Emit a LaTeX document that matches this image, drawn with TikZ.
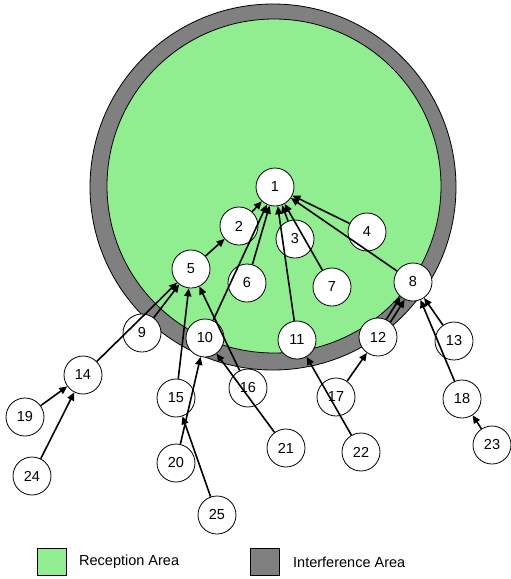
\documentclass[tikz,border=0pt]{standalone}
\usepackage{fontspec}
\setmainfont{Liberation Sans}
\usetikzlibrary{arrows.meta}
\usetikzlibrary{positioning}

\definecolor{recvgreen}{HTML}{90EE90}
\definecolor{intfgray}{HTML}{808080}

\begin{document}
\begin{tikzpicture}[x=1pt,y=-1pt,
        station/.style={circle, draw, fill=white, line width=0.8pt, minimum size=38pt, inner sep=0pt, font=\fontsize{14.5}{16}\selectfont},
        link/.style={-{Triangle[length=8pt,width=7pt]}, line width=1.6pt},
        legendbox/.style={draw, line width=0.8pt, minimum width=29pt, minimum height=27pt, inner sep=0pt},
        legendtext/.style={anchor=west, inner sep=0pt, font=\fontsize{14.5}{16}\selectfont}]

        \useasboundingbox (0,0) rectangle (511,579);

        % draw the interference ring and the reception area
        \draw[fill=intfgray, line width=0.8pt] (273,187) circle[radius=183pt];
        \draw[fill=recvgreen, line width=0.8pt] (274,186) circle[radius=167pt];

        % define the stations
        \node[station] (n1) at (275,187) {1};
        \node[station] (n2) at (239,226) {2};
        \node[station] (n3) at (295,239) {3};
        \node[station] (n4) at (367,232) {4};
        \node[station] (n5) at (191,269) {5};
        \node[station] (n6) at (247,283) {6};
        \node[station] (n7) at (332,287) {7};
        \node[station] (n8) at (413,282) {8};
        \node[station] (n9) at (142,333) {9};
        \node[station] (n10) at (205,338) {10};
        \node[station] (n11) at (297,340) {11};
        \node[station] (n12) at (378,337) {12};
        \node[station] (n13) at (454,341) {13};
        \node[station] (n14) at (83,375) {14};
        \node[station] (n15) at (176,398) {15};
        \node[station] (n16) at (248,388) {16};
        \node[station] (n17) at (336,397) {17};
        \node[station] (n18) at (462,399) {18};
        \node[station] (n19) at (25,417) {19};
        \node[station] (n20) at (176,463) {20};
        \node[station] (n21) at (286,448) {21};
        \node[station] (n22) at (361,452) {22};
        \node[station] (n23) at (492,445) {23};
        \node[station] (n24) at (32,476) {24};
        \node[station] (n25) at (217,515) {25};

        % draw the links towards station 1
        \draw[link] (n2) -- (n1);
        \draw[link] (n3) -- (n1);
        \draw[link] (n4) -- (n1);
        \draw[link] (n6) -- (n1);
        \draw[link] (n7) -- (n1);
        \draw[link] (n8) -- (n1);
        \draw[link] (n10) -- (n1);
        \draw[link] (n11) -- (n1);

        % draw the links of the second level
        \draw[link] (n5) -- (n2);
        \draw[link] (n9) -- (n5);
        \draw[link] (n14) -- (n5);
        \draw[link] (n15) -- (n5);
        \draw[link] (n16) -- (n5);
        \draw[link, transform canvas={xshift=-2.1pt, yshift=1.3pt}] (n12) -- (n8);
        \draw[link, transform canvas={xshift=2.1pt, yshift=-1.3pt}] (n12) -- (n8);
        \draw[link] (n13) -- (n8);
        \draw[link] (n18) -- (n8);

        % draw the links outside the ring
        \draw[link] (n19) -- (n14);
        \draw[link] (n24) -- (n14);
        \draw[link] (n20) -- (n10);
        \draw[link] (n21) -- (n10);
        \draw[link] (n25) -- (n15);
        \draw[link] (n22) -- (n11);
        \draw[link] (n17) -- (n12);
        \draw[link] (n23) -- (n18);

        % add the legend
        \node[legendbox, fill=recvgreen] (recv_box) at (51.5,562) {};
        \node[legendtext] (recv_text) at (79,562) {Reception Area};
        \node[legendbox, fill=intfgray] (intf_box) at (264.5,562) {};
        \node[legendtext] (intf_text) at (293,562) {Interference Area};

\end{tikzpicture}
\end{document}
